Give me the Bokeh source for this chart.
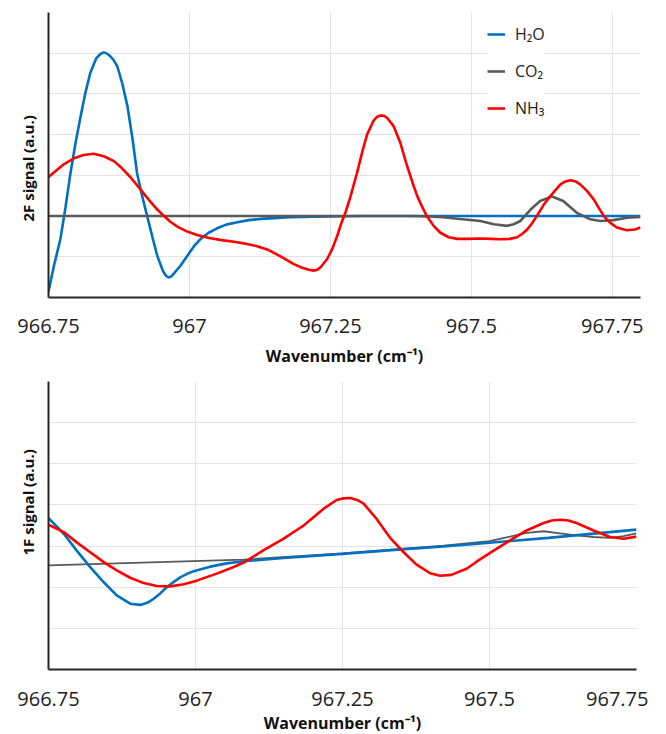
from bokeh.plotting import figure
from bokeh.layouts import column
from bokeh.models import FixedTicker, Range1d, Title
from bokeh.embed import file_html
from bokeh.resources import INLINE

# ---------------- data: 2F signal (top) ----------------
x_h2o_2f = [966.75, 966.76, 966.771, 966.78, 966.789, 966.798, 966.807, 966.815, 966.824, 966.83,
            966.835, 966.842, 966.848, 966.854, 966.86, 966.866, 966.872, 966.881, 966.89, 966.899,
            966.907, 966.916, 966.925, 966.934, 966.943, 966.953, 966.958, 966.963, 966.968, 966.973,
            966.984, 966.996, 967.008, 967.02, 967.034, 967.049, 967.065, 967.085, 967.105, 967.126,
            967.15, 967.179, 967.22, 967.3, 967.5, 967.8]
y_h2o_2f = [-1.85, -1.2, -0.57, 0.2, 1.06, 1.8, 2.45, 3.0, 3.51, 3.72,
            3.88, 3.98, 4.02, 3.99, 3.92, 3.82, 3.68, 3.25, 2.70, 1.9,
            1.06, 0.5, 0.0, -0.5, -0.98, -1.35, -1.46, -1.51, -1.48, -1.40,
            -1.22, -0.98, -0.74, -0.56, -0.41, -0.30, -0.21, -0.15, -0.10, -0.07,
            -0.05, -0.03, -0.015, 0.0, 0.0, 0.0]

x_co2_2f = [966.75, 967.40, 967.45, 967.48, 967.516, 967.54, 967.563, 967.575, 967.587, 967.605,
            967.622, 967.643, 967.663, 967.687, 967.711, 967.729, 967.752, 967.776, 967.8]
y_co2_2f = [0.0, 0.0, -0.03, -0.07, -0.12, -0.2, -0.24, -0.2, -0.12, 0.16,
            0.37, 0.48, 0.37, 0.08, -0.08, -0.12, -0.10, -0.04, -0.02]

x_nh3_2f = [966.75, 966.775, 966.795, 966.812, 966.83, 966.848, 966.866, 966.88, 966.895, 966.907,
            966.919, 966.931, 966.943, 966.955, 966.966, 966.98, 966.996, 967.015, 967.035, 967.057,
            967.079, 967.10, 967.12, 967.138, 967.155, 967.17, 967.185, 967.20, 967.212, 967.22,
            967.227, 967.233, 967.244, 967.253, 967.262, 967.27, 967.277, 967.285, 967.297, 967.307,
            967.315, 967.326, 967.333, 967.339, 967.345, 967.35, 967.362, 967.374, 967.386, 967.395,
            967.404, 967.413, 967.421, 967.432, 967.445, 967.46, 967.475, 967.495, 967.515, 967.535,
            967.551, 967.568, 967.581, 967.59, 967.599, 967.608, 967.616, 967.628, 967.64, 967.658,
            967.667, 967.676, 967.685, 967.693, 967.705, 967.717, 967.726, 967.735, 967.746, 967.758,
            967.776, 967.79, 967.8]
y_nh3_2f = [0.96, 1.25, 1.42, 1.50, 1.53, 1.47, 1.35, 1.18, 0.96, 0.76,
            0.55, 0.35, 0.16, 0.0, -0.14, -0.27, -0.38, -0.47, -0.54, -0.59,
            -0.63, -0.68, -0.74, -0.82, -0.94, -1.06, -1.18, -1.27, -1.32, -1.34,
            -1.32, -1.25, -1.06, -0.82, -0.49, -0.15, 0.10, 0.45, 1.05, 1.60,
            2.00, 2.33, 2.44, 2.47, 2.46, 2.42, 2.21, 1.80, 1.23, 0.85,
            0.49, 0.22, 0.0, -0.22, -0.41, -0.52, -0.56, -0.56, -0.55, -0.56,
            -0.57, -0.56, -0.52, -0.44, -0.33, -0.17, 0.0, 0.27, 0.49, 0.78,
            0.85, 0.88, 0.85, 0.78, 0.62, 0.41, 0.2, 0.0, -0.16, -0.28,
            -0.35, -0.33, -0.28]

# ---------------- data: 1F signal (bottom) ----------------
x_h2o_1f = [966.75, 966.776, 966.798, 966.821, 966.844, 966.866, 966.889, 966.906, 966.918, 966.929,
            966.94, 966.951, 966.963, 966.974, 966.985, 966.997, 967.025, 967.053, 967.082, 967.15,
            967.25, 967.35, 967.422, 967.5, 967.6, 967.75]
y_h2o_1f = [3.68, 3.30, 2.89, 2.49, 2.12, 1.80, 1.60, 1.57, 1.62, 1.72,
            1.85, 2.0, 2.13, 2.24, 2.32, 2.39, 2.50, 2.58, 2.63, 2.71,
            2.81, 2.92, 2.99, 3.08, 3.20, 3.40]

x_co2_1f = [966.75, 967.082, 967.25, 967.422, 967.5, 967.535, 967.563, 967.592, 967.62, 967.648,
            967.677, 967.705, 967.728, 967.75]
y_co2_1f = [2.53, 2.67, 2.82, 3.01, 3.12, 3.23, 3.32, 3.36, 3.31, 3.26,
            3.22, 3.20, 3.24, 3.31]

x_nh3_1f = [966.75, 966.776, 966.798, 966.821, 966.844, 966.866, 966.889, 966.912, 966.934, 966.957,
            966.98, 967.002, 967.036, 967.065, 967.082, 967.116, 967.15, 967.184, 967.218, 967.24,
            967.252, 967.263, 967.275, 967.286, 967.308, 967.331, 967.354, 967.376, 967.399, 967.416,
            967.435, 967.461, 967.478, 967.507, 967.535, 967.563, 967.592, 967.606, 967.62, 967.634,
            967.648, 967.677, 967.705, 967.728, 967.75]
y_nh3_1f = [3.52, 3.34, 3.09, 2.85, 2.61, 2.41, 2.23, 2.10, 2.03, 2.02,
            2.07, 2.16, 2.33, 2.49, 2.60, 2.90, 3.18, 3.50, 3.91, 4.12,
            4.16, 4.17, 4.12, 4.03, 3.66, 3.20, 2.85, 2.55, 2.34, 2.28,
            2.30, 2.45, 2.62, 2.89, 3.14, 3.38, 3.56, 3.62, 3.64, 3.62,
            3.56, 3.38, 3.22, 3.18, 3.23]

x_ticks = [966.75, 967.0, 967.25, 967.5, 967.75]
x_tick_labels = ["966.75", "967", "967.25", "967.5", "967.75"]
grid_2f = [-2, -1, 0, 1, 2, 3, 4, 5]
grid_1f = [0, 1, 2, 3, 4, 5, 6]
series_names = ["H\u2082O", "CO\u2082", "NH\u2083"]
x_title = "Wavenumber (cm\u207b\u00b9)"
y_title_2f = "2F signal (a.u.)"
y_title_1f = "1F signal (a.u.)"

C_BLUE = "#0070C0"
C_GRAY = "#595959"
C_RED = "#FF0000"
FONT = "Open Sans"


def style(p, yticks):
    p.outline_line_color = None
    p.background_fill_color = "white"
    p.border_fill_color = "white"
    p.xaxis.ticker = FixedTicker(ticks=x_ticks)
    p.xaxis.major_label_overrides = {t: l for t, l in zip(x_ticks, x_tick_labels)}
    p.xaxis.major_label_text_font = FONT
    p.xaxis.major_label_text_font_size = "20px"
    p.xaxis.major_label_text_color = "#222222"
    p.xaxis.major_tick_line_color = None
    p.xaxis.minor_tick_line_color = None
    p.xaxis.axis_line_color = "#262626"
    p.xaxis.axis_line_width = 2
    p.xaxis.axis_label = x_title
    p.xaxis.axis_label_text_font = FONT
    p.xaxis.axis_label_text_font_style = "bold"
    p.xaxis.axis_label_text_font_size = "16px"
    p.xaxis.axis_label_text_color = "#111111"
    p.yaxis.ticker = FixedTicker(ticks=[])
    p.yaxis.major_label_standoff = 0
    p.yaxis.major_tick_line_color = None
    p.yaxis.minor_tick_line_color = None
    p.yaxis.axis_line_color = "#262626"
    p.yaxis.axis_line_width = 2
    p.xgrid.ticker = FixedTicker(ticks=x_ticks)
    p.ygrid.ticker = FixedTicker(ticks=yticks)
    p.grid.grid_line_color = "#e3e3e3"
    p.grid.grid_line_width = 1


def ytitle(text, offset, size):
    return Title(text=text, align="left", offset=offset, standoff=21, text_font=FONT,
                 text_font_style="bold", text_font_size=size, text_color="#111111")


# ---------------- top figure ----------------
p1 = figure(frame_width=592, frame_height=285, min_border_left=48, min_border_right=10,
            min_border_top=12, min_border_bottom=73,
            x_range=Range1d(966.75, 967.8), y_range=Range1d(-2, 5),
            output_backend="svg", toolbar_location=None)
style(p1, grid_2f)
p1.xaxis.major_label_standoff = 15
p1.xaxis.axis_label_standoff = 9

p1.line(x_h2o_2f, y_h2o_2f, color=C_BLUE, line_width=2.6, legend_label=series_names[0])
p1.line(x_co2_2f, y_co2_2f, color=C_GRAY, line_width=2.6, legend_label=series_names[1])
p1.line(x_nh3_2f, y_nh3_2f, color=C_RED, line_width=2.6, legend_label=series_names[2])

lg = p1.legend[0]
lg.location = (439, 178)
lg.background_fill_color = "white"
lg.background_fill_alpha = 1.0
lg.border_line_color = None
lg.label_text_font = FONT
lg.label_text_font_size = "16px"
lg.label_text_color = "#222222"
lg.glyph_width = 18
lg.glyph_height = 20
lg.label_height = 20
lg.label_standoff = 10
lg.spacing = 15
lg.padding = 10
lg.margin = 0

p1.add_layout(ytitle(y_title_2f, 76, "15px"), "left")

# ---------------- bottom figure ----------------
p2 = figure(frame_width=588, frame_height=288, min_border_left=45, min_border_right=15,
            min_border_top=11, min_border_bottom=55,
            x_range=Range1d(966.75, 967.75), y_range=Range1d(0, 7),
            output_backend="svg", toolbar_location=None)
style(p2, grid_1f)
p2.xaxis.major_label_standoff = 16
p2.xaxis.axis_label_standoff = 3

p2.line(x_co2_1f, y_co2_1f, color=C_GRAY, line_width=1.8)
p2.line(x_h2o_1f, y_h2o_1f, color=C_BLUE, line_width=2.6)
p2.line(x_nh3_1f, y_nh3_1f, color=C_RED, line_width=2.6)

p2.add_layout(ytitle(y_title_1f, 114, "15px"), "left")

layout = column(p1, p2, spacing=0)
open("out.html", "w").write(file_html(layout, INLINE))
